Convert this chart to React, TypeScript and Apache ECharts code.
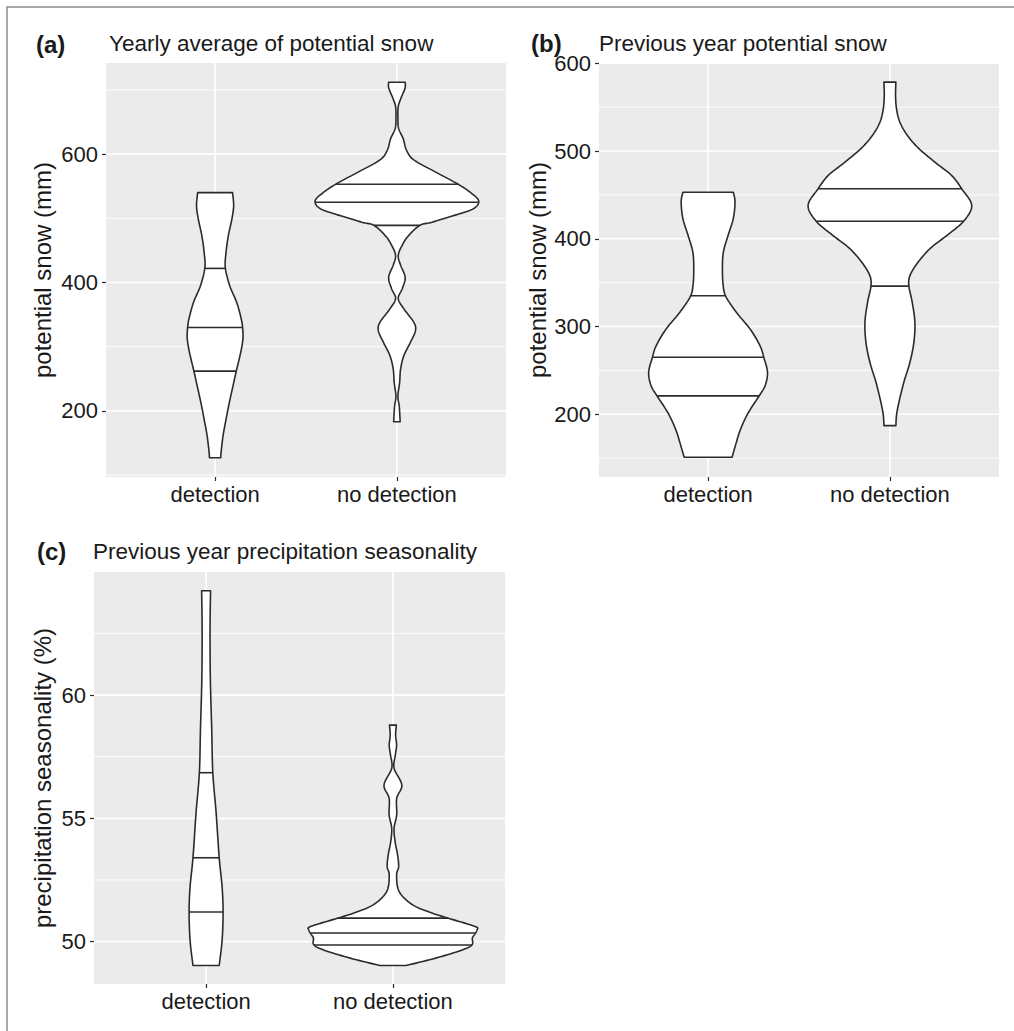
import React, { useEffect, useRef } from "react";
import * as echarts from "echarts";

// ---------------- data ----------------
const categories = ["detection", "no detection"];
const panelTags = ["(a)", "(b)", "(c)"];
const panelTitles = [
  "Yearly average of potential snow",
  "Previous year potential snow",
  "Previous year precipitation seasonality",
];
const yAxisNames = ["potential snow (mm)", "potential snow (mm)", "precipitation seasonality (%)"];

// axis ranges (ggplot 5% expansion)
const yRangeA = [97, 742];
const yRangeB = [128.5, 600.3];
const yRangeC = [48.28, 64.99];

// tick labels / gridlines
const yMajorA = [200, 400, 600];
const yMinorA = [100, 300, 500, 700];
const yMajorB = [200, 300, 400, 500, 600];
const yMinorB = [150, 250, 350, 450, 550];
const yMajorC = [50, 55, 60];
const yMinorC = [52.5, 57.5, 62.5];

// violin density profiles: [value, relative density (1 = widest violin in panel)]
const violinA_detection: [number, number][] = [
  [540, 0.213], [520, 0.227], [500, 0.207], [473, 0.162], [447, 0.134], [423, 0.125],
  [395, 0.179], [369, 0.264], [343, 0.32], [328, 0.337], [312, 0.34], [291, 0.313],
  [262, 0.259], [239, 0.219], [213, 0.174], [187, 0.134], [161, 0.097], [135, 0.073], [127, 0.069],
];
const violinA_noDetection: [number, number][] = [
  [712, 0.101], [703, 0.1], [687, 0.049], [674, 0.016], [656, 0.012], [640, 0.021],
  [624, 0.077], [606, 0.118], [591, 0.207], [572, 0.474], [553, 0.75], [539, 0.911],
  [527, 1.0], [515, 0.936], [505, 0.713], [494, 0.429], [489, 0.28], [473, 0.142],
  [458, 0.064], [442, 0.016], [427, 0.045], [408, 0.101], [390, 0.064], [375, 0.016],
  [359, 0.085], [338, 0.207], [325, 0.227], [307, 0.166], [286, 0.085], [265, 0.045],
  [244, 0.033], [223, 0.012], [208, 0.028], [192, 0.036], [183, 0.04],
];
const quantA_detection = [422, 330, 262];
const quantA_noDetection = [553, 525, 489];

const violinB_detection: [number, number][] = [
  [453, 0.308], [442, 0.329], [423, 0.308], [404, 0.245], [385, 0.187], [366, 0.175],
  [347, 0.184], [334, 0.218], [316, 0.347], [297, 0.514], [278, 0.635], [264, 0.683],
  [248, 0.726], [233, 0.699], [221, 0.625], [202, 0.493], [183, 0.397], [164, 0.333], [151, 0.293],
];
const violinB_noDetection: [number, number][] = [
  [578.5, 0.073], [563, 0.069], [548, 0.081], [533, 0.121], [518, 0.212], [503, 0.351],
  [487, 0.554], [472, 0.756], [457, 0.877], [438, 1.0], [420, 0.901], [404, 0.699],
  [389, 0.493], [373, 0.342], [358, 0.245], [346, 0.232], [328, 0.272], [305, 0.305],
  [282, 0.293], [259, 0.244], [237, 0.172], [214, 0.111], [199, 0.081], [187, 0.073],
];
const quantB_detection = [335, 265, 221];
const quantB_noDetection = [457, 420, 346];

const violinC_detection: [number, number][] = [
  [64.23, 0.053], [62.6, 0.047], [60.6, 0.051], [58.6, 0.067], [56.85, 0.08], [55.2, 0.12],
  [53.4, 0.156], [52.2, 0.191], [51.2, 0.202], [50.07, 0.191], [49.03, 0.156],
];
const violinC_noDetection: [number, number][] = [
  [58.78, 0.041], [58.38, 0.032], [57.97, 0.044], [57.57, 0.029], [57.03, 0.014], [56.35, 0.106],
  [55.81, 0.045], [55.14, 0.045], [54.6, 0.014], [54.05, 0.026], [53.51, 0.056], [53.04, 0.068],
  [52.7, 0.044], [52.03, 0.074], [51.49, 0.235], [51.15, 0.471], [50.92, 0.686], [50.61, 0.98],
  [50.47, 1.0], [50.31, 0.976], [50.14, 0.945], [49.87, 0.941], [49.66, 0.824], [49.33, 0.509],
  [49.03, 0.156],
];
const quantC_detection = [56.85, 53.4, 51.2];
const quantC_noDetection = [50.95, 50.35, 49.86];

// ---------------- helpers ----------------
type Profile = [number, number][];

function densify(p: Profile): Profile {
  const out: Profile = [];
  const n = p.length;
  const steps = 10;
  for (let i = 0; i < n - 1; i++) {
    const p0 = p[Math.max(0, i - 1)];
    const p1 = p[i];
    const p2 = p[i + 1];
    const p3 = p[Math.min(n - 1, i + 2)];
    for (let s = 0; s < steps; s++) {
      const t = s / steps;
      const t2 = t * t;
      const t3 = t2 * t;
      const f = (a: number, b: number, c: number, d: number) =>
        0.5 * (2 * b + (-a + c) * t + (2 * a - 5 * b + 4 * c - d) * t2 + (-a + 3 * b - 3 * c + d) * t3);
      out.push([f(p0[0], p1[0], p2[0], p3[0]), Math.max(0.004, f(p0[1], p1[1], p2[1], p3[1]))]);
    }
  }
  out.push(p[n - 1]);
  return out;
}

function widthAt(dense: Profile, q: number): number {
  for (let i = 0; i < dense.length - 1; i++) {
    const [v0, d0] = dense[i];
    const [v1, d1] = dense[i + 1];
    if ((v0 - q) * (v1 - q) <= 0) {
      const t = v1 === v0 ? 0 : (q - v0) / (v1 - v0);
      return d0 + (d1 - d0) * t;
    }
  }
  return 0;
}

const FONT = "'Liberation Sans', Arial, Helvetica, sans-serif";
const TEXT = "#1a1a1a";
const LINE = "#2b2b2b";
const HALF = 0.45;
const X_MIN = 0.4;
const X_MAX = 2.6;

const panels = [
  {
    grid: { left: 106, top: 63, width: 400, height: 414 },
    yRange: yRangeA, major: yMajorA, minor: yMinorA, nameGap: 52,
    violins: [violinA_detection, violinA_noDetection], quants: [quantA_detection, quantA_noDetection],
  },
  {
    grid: { left: 599, top: 63, width: 400, height: 414 },
    yRange: yRangeB, major: yMajorB, minor: yMinorB, nameGap: 50,
    violins: [violinB_detection, violinB_noDetection], quants: [quantB_detection, quantB_noDetection],
  },
  {
    grid: { left: 94, top: 572, width: 411, height: 412 },
    yRange: yRangeC, major: yMajorC, minor: yMinorC, nameGap: 40,
    violins: [violinC_detection, violinC_noDetection], quants: [quantC_detection, quantC_noDetection],
  },
];

function buildOption() {
  const grid: any[] = [];
  const xAxis: any[] = [];
  const yAxis: any[] = [];
  const series: any[] = [];

  panels.forEach((p, k) => {
    grid.push({ ...p.grid, show: true, backgroundColor: "#EBEBEB", borderWidth: 0 });
    xAxis.push({
      type: "value",
      gridIndex: k,
      min: X_MIN,
      max: X_MAX,
      axisLine: { show: false },
      axisTick: { show: true, customValues: [1, 2], length: 4, lineStyle: { color: LINE, width: 1.2 } },
      axisLabel: {
        show: true,
        customValues: [1, 2],
        formatter: (v: number) => categories[Math.round(v) - 1] ?? "",
        fontSize: 22,
        fontFamily: FONT,
        color: TEXT,
        margin: 6,
      },
      splitLine: { show: false },
    });
    yAxis.push({
      type: "value",
      gridIndex: k,
      min: p.yRange[0],
      max: p.yRange[1],
      name: yAxisNames[k],
      nameLocation: "middle",
      nameGap: p.nameGap,
      nameTextStyle: { fontSize: 24, fontFamily: FONT, color: TEXT },
      axisLine: { show: false },
      axisTick: { show: true, customValues: p.major, length: 4, lineStyle: { color: LINE, width: 1.2 } },
      axisLabel: {
        show: true,
        customValues: p.major,
        formatter: (v: number) => String(v),
        fontSize: 22,
        fontFamily: FONT,
        color: TEXT,
        margin: 8,
      },
      splitLine: { show: false },
    });

    const ymid = (p.yRange[0] + p.yRange[1]) / 2;
    const gridData: number[][] = [];
    p.minor.forEach((v) => gridData.push([1.5, v, 0, 0]));
    p.major.forEach((v) => gridData.push([1.5, v, 0, 1]));
    [1, 2].forEach((x) => gridData.push([x, ymid, 1, 1]));
    series.push({
      type: "custom",
      xAxisIndex: k,
      yAxisIndex: k,
      z: 1,
      silent: true,
      clip: true,
      data: gridData,
      renderItem: (params: any, api: any) => {
        const horizontal = api.value(2) === 0;
        const major = api.value(3) === 1;
        let a, b;
        if (horizontal) {
          const v = api.value(1);
          a = api.coord([X_MIN, v]);
          b = api.coord([X_MAX, v]);
        } else {
          const x = api.value(0);
          a = api.coord([x, p.yRange[0]]);
          b = api.coord([x, p.yRange[1]]);
        }
        return {
          type: "line",
          shape: { x1: a[0], y1: a[1], x2: b[0], y2: b[1] },
          style: { stroke: "#FFFFFF", lineWidth: major ? 1.7 : 0.9 },
        };
      },
    });

    const dense = p.violins.map((v) => densify(v));
    series.push({
      type: "custom",
      xAxisIndex: k,
      yAxisIndex: k,
      z: 2,
      silent: true,
      clip: false,
      data: [
        [1, p.quants[0][1]],
        [2, p.quants[1][1]],
      ],
      renderItem: (params: any, api: any) => {
        const idx = params.dataIndex;
        const xc = api.value(0);
        const d = dense[idx];
        const right = d.map(([v, w]) => api.coord([xc + w * HALF, v]));
        const left = d.map(([v, w]) => api.coord([xc - w * HALF, v])).reverse();
        const children: any[] = [
          {
            type: "polygon",
            shape: { points: right.concat(left) },
            style: { fill: "#FFFFFF", stroke: LINE, lineWidth: 1.6, lineJoin: "round" },
          },
        ];
        p.quants[idx].forEach((q) => {
          const w = widthAt(d, q);
          const a = api.coord([xc - w * HALF, q]);
          const b = api.coord([xc + w * HALF, q]);
          children.push({
            type: "line",
            shape: { x1: a[0], y1: a[1], x2: b[0], y2: b[1] },
            style: { stroke: LINE, lineWidth: 1.6 },
          });
        });
        return { type: "group", children };
      },
    });
  });

  const tagPos = [
    [36, 44],
    [531, 43],
    [37, 551],
  ];
  const titlePos = [
    [109, 43],
    [599, 43],
    [93, 551],
  ];
  const graphic: any[] = [
    {
      type: "rect",
      silent: true,
      shape: { x: 7, y: 7, width: 1030, height: 1050 },
      style: { fill: "none", stroke: "#8c8c8c", lineWidth: 1.5 },
    },
  ];
  panelTags.forEach((t, k) => {
    graphic.push({
      type: "text",
      x: tagPos[k][0],
      y: tagPos[k][1],
      style: { text: t, fontSize: 24, fontWeight: "bold", fontFamily: FONT, fill: TEXT, verticalAlign: "middle" },
    });
    graphic.push({
      type: "text",
      x: titlePos[k][0],
      y: titlePos[k][1],
      style: { text: panelTitles[k], fontSize: 22.5, fontFamily: FONT, fill: TEXT, verticalAlign: "middle" },
    });
  });

  return {
    animation: false,
    backgroundColor: "#FFFFFF",
    grid,
    xAxis,
    yAxis,
    series,
    graphic,
  };
}

export default function App() {
  const ref = useRef<HTMLDivElement>(null);
  useEffect(() => {
    if (!ref.current) return;
    const chart = echarts.init(ref.current, undefined, { renderer: "svg" });
    chart.setOption(buildOption() as any);
    return () => chart.dispose();
  }, []);
  return (
    <div
      ref={ref}
      style={{ position: "absolute", left: 0, top: 0, width: 1014, height: 1031 }}
    />
  );
}
